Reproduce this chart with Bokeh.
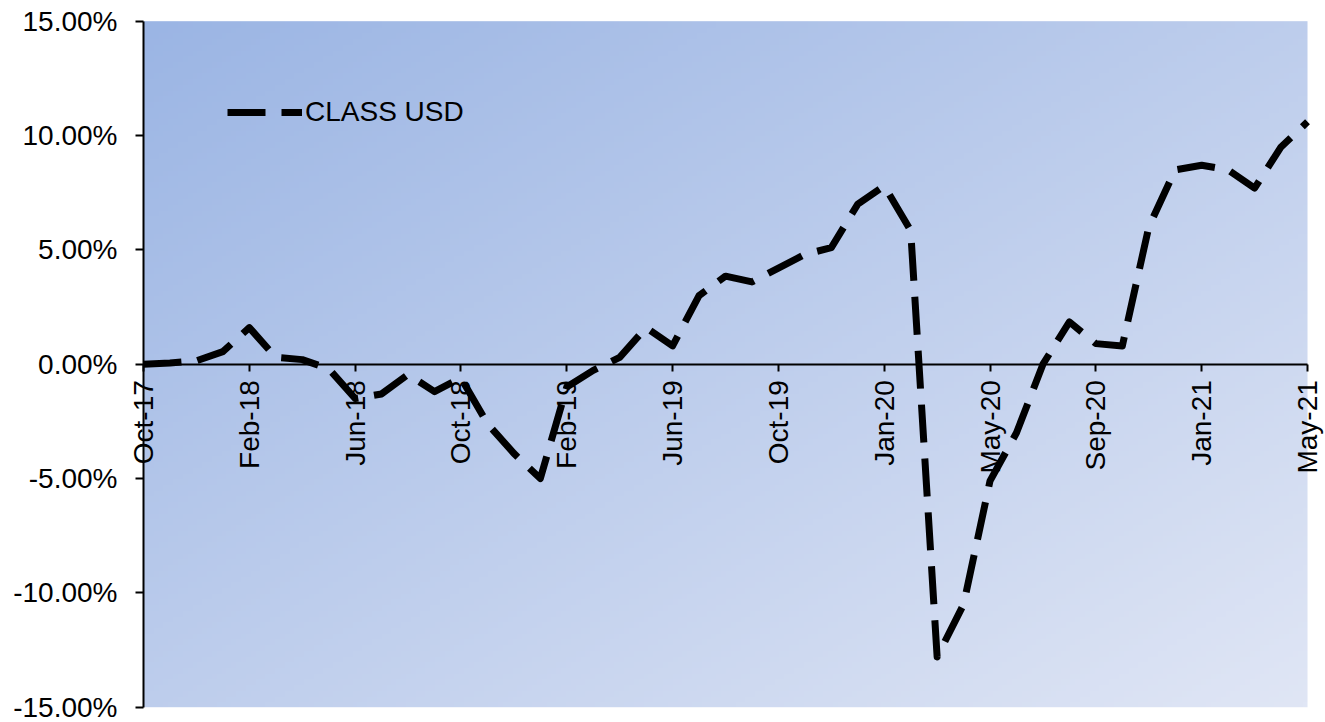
import math
import numpy as np
from bokeh.plotting import figure
from bokeh.models import Range1d, FixedTicker, NumeralTickFormatter, LinearAxis, Legend, LegendItem
from bokeh.embed import file_html
from bokeh.resources import INLINE

# ---- data ----
months = ["Oct-17", "Nov-17", "Dec-17", "Jan-18", "Feb-18", "Mar-18", "Apr-18", "May-18",
          "Jun-18", "Jul-18", "Aug-18", "Sep-18", "Oct-18", "Nov-18", "Dec-18", "Jan-19",
          "Feb-19", "Mar-19", "Apr-19", "May-19", "Jun-19", "Jul-19", "Aug-19", "Sep-19",
          "Oct-19", "Nov-19", "Dec-19", "Dec-19", "Jan-20", "Feb-20", "Mar-20", "Apr-20",
          "May-20", "Jun-20", "Jul-20", "Aug-20", "Sep-20", "Oct-20", "Nov-20", "Dec-20",
          "Jan-21", "Feb-21", "Mar-21", "Apr-21", "May-21"]
class_usd_pct = [0.0, 0.05, 0.15, 0.55, 1.6, 0.3, 0.2, -0.2,
                 -1.5, -1.3, -0.45, -1.2, -0.6, -2.6, -3.9, -5.0,
                 -1.0, -0.27, 0.3, 1.6, 0.8, 3.0, 3.85, 3.6,
                 4.2, 4.8, 5.1, 7.0, 7.8, 5.85, -12.8, -10.5,
                 -5.1, -3.0, 0.0, 1.85, 0.9, 0.8, 6.0, 8.5,
                 8.7, 8.5, 7.7, 9.5, 10.6]
series_name = "CLASS USD"
y_ticks = [-0.15, -0.10, -0.05, 0.0, 0.05, 0.10, 0.15]
y_min, y_max = -0.15, 0.15
x_tick_step = 4

x = list(range(len(months)))
y = [v / 100.0 for v in class_usd_pct]
n_last = len(months) - 1

FONT = "Liberation Sans"

# layout: plot area spans px 143..1307 horizontally and 20.7..706.7 vertically
W_PX, H_PX = 1325, 722
left_px, right_px, top_px, bottom_px = 143.0, 1307.0, 20.7, 706.7
sx = (right_px - left_px) / n_last
sy = (bottom_px - top_px) / (y_max - y_min)
x_start = -left_px / sx
x_end = n_last + (W_PX - right_px) / sx
y_end = y_max + top_px / sy
y_start = y_min - (H_PX - bottom_px) / sy

p = figure(width=W_PX, height=H_PX, output_backend="svg", toolbar_location=None,
           x_range=Range1d(x_start, x_end), y_range=Range1d(y_start, y_end),
           x_axis_location=None, y_axis_location=None,
           min_border_left=0, min_border_right=0, min_border_top=0, min_border_bottom=0)
p.outline_line_color = None
p.xgrid.visible = False
p.ygrid.visible = False
p.background_fill_color = "white"
p.border_fill_color = "white"

# gradient background of plot area
H, W = 120, 240
rows = np.arange(H).reshape(-1, 1) / (H - 1)
cols = np.arange(W).reshape(1, -1) / (W - 1)
t = (cols + (1 - rows)) / 2.0
c0 = np.array([155, 181, 228])
c1 = np.array([224, 230, 245])
img = np.empty((H, W), dtype=np.uint32)
view = img.view(dtype=np.uint8).reshape((H, W, 4))
for k in range(3):
    view[:, :, k] = (c0[k] + (c1[k] - c0[k]) * t).astype(np.uint8)
view[:, :, 3] = 255
p.image_rgba(image=[img], x=0, y=y_min, dw=n_last, dh=y_max - y_min, level="image")

# line
r = p.line(x, y, line_color="black", line_width=7, line_dash="38 16", line_cap="butt", line_join="round")

# y axis at x = 0
yax = LinearAxis(ticker=FixedTicker(ticks=y_ticks), formatter=NumeralTickFormatter(format="0.00%"),
                 fixed_location=0, bounds=(y_min, y_max))
yax.axis_line_color = "black"
yax.axis_line_width = 2
yax.major_tick_line_width = 2
yax.major_tick_out = 8
yax.major_tick_in = 0
yax.minor_tick_out = 0
yax.minor_tick_in = 0
yax.major_label_standoff = 18
yax.major_label_text_font = FONT
yax.major_label_text_font_size = "28px"
yax.major_label_text_color = "black"
p.add_layout(yax, "left")

# x axis at y = 0
xax = LinearAxis(ticker=FixedTicker(ticks=list(range(0, len(months), x_tick_step))),
                 fixed_location=0, bounds=(0, n_last))
xax.major_label_overrides = {i: months[i] for i in range(0, len(months), x_tick_step)}
xax.major_label_orientation = math.pi / 2
xax.axis_line_color = "black"
xax.axis_line_width = 2
xax.major_tick_line_width = 2
xax.major_tick_out = 7
xax.major_tick_in = 0
xax.minor_tick_out = 0
xax.minor_tick_in = 0
xax.major_label_standoff = 9
xax.major_label_text_font = FONT
xax.major_label_text_font_size = "28px"
xax.major_label_text_color = "black"
p.add_layout(xax, "below")

legend = Legend(items=[LegendItem(label=series_name, renderers=[r])], location=(227, 594),
                padding=0, margin=0, spacing=0, glyph_width=75, glyph_height=20,
                label_standoff=3, label_text_font=FONT, label_text_font_size="28px",
                label_text_color="black",
                background_fill_alpha=0, border_line_color=None)
p.add_layout(legend, "center")

open("out.html", "w").write(file_html(p, INLINE))
